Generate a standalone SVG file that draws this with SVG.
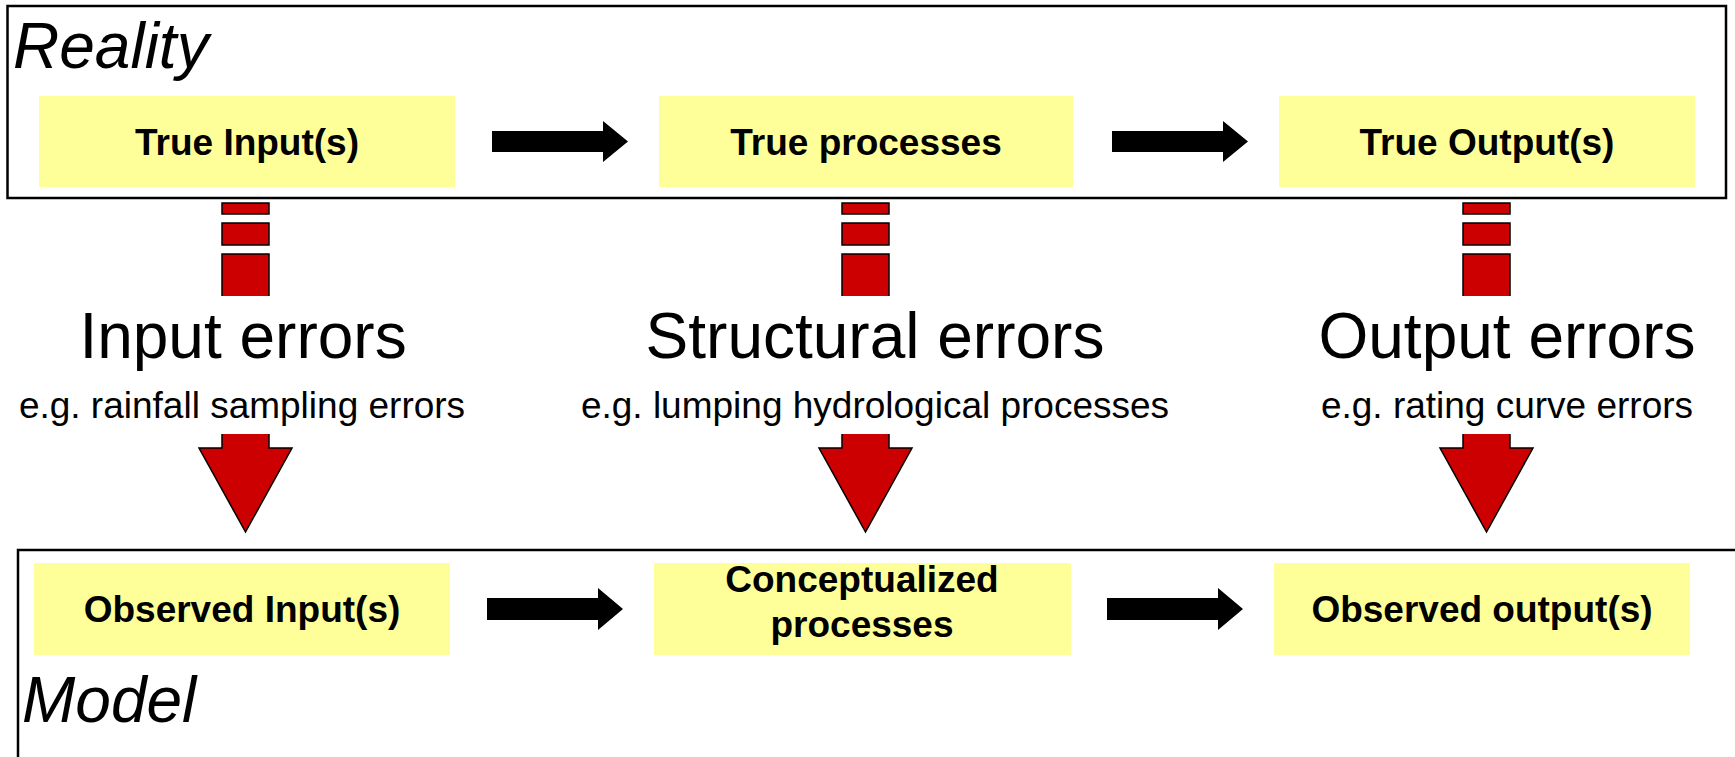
<svg xmlns="http://www.w3.org/2000/svg" width="1735" height="757" viewBox="0 0 1735 757">
<style>
.frame{fill:none;stroke:#000;stroke-width:2.5}
.box{fill:#FFFF99}
.lbl{font-family:"Liberation Sans",Arial,sans-serif;font-weight:bold;font-size:37px;fill:#000;text-anchor:middle}
.title{font-family:"Liberation Sans",Arial,sans-serif;font-style:italic;font-size:64px;fill:#000}
.err{font-family:"Liberation Sans",Arial,sans-serif;font-size:64px;fill:#000;text-anchor:middle}
.sub{font-family:"Liberation Sans",Arial,sans-serif;font-size:37px;fill:#000;text-anchor:middle}
.red{fill:#CC0000;stroke:#000;stroke-width:1.5;stroke-linejoin:miter}
.blk{fill:#000}
</style>
<rect width="1735" height="757" fill="#fff"/>
<g id="reality">
<rect class="frame" x="7.5" y="6" width="1718.5" height="192"/>
<text class="title" x="13" y="68">Reality</text>
</g>
<g id="model">
<rect class="frame" x="18" y="550" width="1800" height="300"/>
<text class="title" x="22" y="722">Model</text>
</g>
<g id="true-input">
<rect class="box" x="39" y="96" width="416" height="91"/>
<text class="lbl" x="247" y="155">True Input(s)</text>
</g>
<g id="true-processes">
<rect class="box" x="659" y="96" width="414" height="91"/>
<text class="lbl" x="866" y="155">True processes</text>
</g>
<g id="true-output">
<rect class="box" x="1279" y="96" width="416" height="91"/>
<text class="lbl" x="1487" y="155">True Output(s)</text>
</g>
<g id="observed-input">
<rect class="box" x="34" y="563" width="416" height="92"/>
<text class="lbl" x="242" y="622">Observed Input(s)</text>
</g>
<g id="conceptualized-processes">
<rect class="box" x="654" y="563" width="417" height="92"/>
<text class="lbl" x="862" y="592">Conceptualized</text>
<text class="lbl" x="862" y="637">processes</text>
</g>
<g id="observed-output">
<rect class="box" x="1274" y="563" width="416" height="92"/>
<text class="lbl" x="1482" y="622">Observed output(s)</text>
</g>
<g id="input-errors">
<text class="err" x="243" y="358">Input errors</text>
<text class="sub" x="242" y="418">e.g. rainfall sampling errors</text>
</g>
<g id="structural-errors">
<text class="err" x="875" y="358">Structural errors</text>
<text class="sub" x="875" y="418">e.g. lumping hydrological processes</text>
</g>
<g id="output-errors">
<text class="err" x="1507" y="358">Output errors</text>
<text class="sub" x="1507" y="418">e.g. rating curve errors</text>
</g>
<g id="connectors">
<path class="blk" d="M492 131H603V121L628 141.5L603 162V152H492Z"/>
<path class="blk" d="M1112 131H1223V121L1248 141.5L1223 162V152H1112Z"/>
<path class="blk" d="M487 598H598V588L623 609L598 630V620H487Z"/>
<path class="blk" d="M1107 598H1218V588L1243 609L1218 630V620H1107Z"/>
<g id="stripes-input">
<rect class="red" x="222" y="203" width="47" height="11"/>
<rect class="red" x="222" y="223" width="47" height="22"/>
<path class="red" d="M222 296V254H269V296"/>
</g>
<g id="stripes-process">
<rect class="red" x="842" y="203" width="47" height="11"/>
<rect class="red" x="842" y="223" width="47" height="22"/>
<path class="red" d="M842 296V254H889V296"/>
</g>
<g id="stripes-output">
<rect class="red" x="1463" y="203" width="47" height="11"/>
<rect class="red" x="1463" y="223" width="47" height="22"/>
<path class="red" d="M1463 296V254H1510V296"/>
</g>
<path class="red" d="M222 434V448H199L245.5 532L292 448H269V434"/>
<path class="red" d="M842 434V448H819L865.5 532L912 448H889V434"/>
<path class="red" d="M1463 434V448H1440L1486.5 532L1533 448H1510V434"/>
</g>
</svg>
